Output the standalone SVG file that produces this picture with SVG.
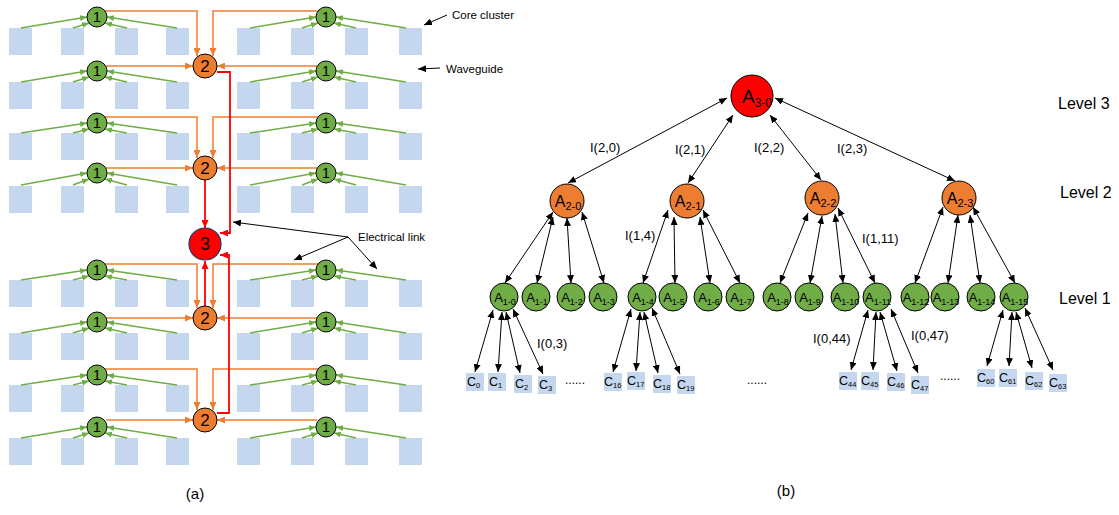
<svg xmlns="http://www.w3.org/2000/svg" width="1119" height="515" viewBox="0 0 1119 515">
<style>
text{font-family:"Liberation Sans",Arial,sans-serif;fill:#000}
.sq{fill:#c5d7ee}
.g1 circle{fill:#70ad47;stroke:#000;stroke-width:1}
.g2 circle{fill:#ed7d31;stroke:#000;stroke-width:1}
.g3 circle{fill:#ff0000;stroke:#1f3864;stroke-width:1.2}
.g4 circle{fill:#ff0000;stroke:#000;stroke-width:1}
.t1{font-size:15px;text-anchor:middle}
.t2{font-size:17px;text-anchor:middle}
.lg path{stroke:#70ad47;stroke-width:1.5;fill:none;marker-end:url(#mg)}
.lo path{stroke:#ed7d31;stroke-width:1.5;fill:none;marker-end:url(#mo)}
.lr path{stroke:#ff0000;stroke-width:1.8;fill:none;marker-end:url(#mr)}
.lk path{stroke:#000;stroke-width:1;fill:none;marker-end:url(#mk)}
.lb path{stroke:#000;stroke-width:1;fill:none;marker-start:url(#mk);marker-end:url(#mk)}
.lbl{font-size:11.5px}
.il{font-size:13px}
.lvl{font-size:16px}
.cap{font-size:15px;text-anchor:middle}
.c rect{fill:#c5d7ee}
.c text{font-size:12.5px}
.dots{font-size:12px}
</style>
<defs>
<marker id="mg" viewBox="0 0 7 6" refX="7" refY="3" markerWidth="7" markerHeight="6" markerUnits="userSpaceOnUse" orient="auto-start-reverse"><path d="M0,0L7,3L0,6z" fill="#70ad47"/></marker>
<marker id="mo" viewBox="0 0 8 7" refX="8" refY="3.5" markerWidth="8" markerHeight="7" markerUnits="userSpaceOnUse" orient="auto-start-reverse"><path d="M0,0L8,3.5L0,7z" fill="#ed7d31"/></marker>
<marker id="mr" viewBox="0 0 8 7" refX="8" refY="3.5" markerWidth="8" markerHeight="7" markerUnits="userSpaceOnUse" orient="auto-start-reverse"><path d="M0,0L8,3.5L0,7z" fill="#ff0000"/></marker>
<marker id="mk" viewBox="0 0 8 7" refX="8" refY="3.5" markerWidth="8" markerHeight="7" markerUnits="userSpaceOnUse" orient="auto-start-reverse"><path d="M0,0L8,3.5L0,7z" fill="#000"/></marker>
</defs>
<rect width="1119" height="515" fill="#fff"/>

<!-- (a) core clusters -->
<g id="cores-a" class="sq">
<g id="cores-r1"><rect x="9" y="28" width="23" height="27"/><rect x="61" y="28" width="23" height="27"/><rect x="115" y="28" width="23" height="27"/><rect x="166" y="28" width="23" height="27"/><rect x="237" y="28" width="23" height="27"/><rect x="291" y="28" width="23" height="27"/><rect x="345" y="28" width="23" height="27"/><rect x="399" y="28" width="23" height="27"/></g>
<g id="cores-r2"><rect x="9" y="82" width="23" height="27"/><rect x="61" y="82" width="23" height="27"/><rect x="115" y="82" width="23" height="27"/><rect x="166" y="82" width="23" height="27"/><rect x="237" y="82" width="23" height="27"/><rect x="291" y="82" width="23" height="27"/><rect x="345" y="82" width="23" height="27"/><rect x="399" y="82" width="23" height="27"/></g>
<g id="cores-r3"><rect x="9" y="133" width="23" height="27"/><rect x="61" y="133" width="23" height="27"/><rect x="115" y="133" width="23" height="27"/><rect x="166" y="133" width="23" height="27"/><rect x="237" y="133" width="23" height="27"/><rect x="291" y="133" width="23" height="27"/><rect x="345" y="133" width="23" height="27"/><rect x="399" y="133" width="23" height="27"/></g>
<g id="cores-r4"><rect x="9" y="186" width="23" height="27"/><rect x="61" y="186" width="23" height="27"/><rect x="115" y="186" width="23" height="27"/><rect x="166" y="186" width="23" height="27"/><rect x="237" y="186" width="23" height="27"/><rect x="291" y="186" width="23" height="27"/><rect x="345" y="186" width="23" height="27"/><rect x="399" y="186" width="23" height="27"/></g>
<g id="cores-r5"><rect x="9" y="280" width="23" height="27"/><rect x="61" y="280" width="23" height="27"/><rect x="115" y="280" width="23" height="27"/><rect x="166" y="280" width="23" height="27"/><rect x="237" y="280" width="23" height="27"/><rect x="291" y="280" width="23" height="27"/><rect x="345" y="280" width="23" height="27"/><rect x="399" y="280" width="23" height="27"/></g>
<g id="cores-r6"><rect x="9" y="333" width="23" height="27"/><rect x="61" y="333" width="23" height="27"/><rect x="115" y="333" width="23" height="27"/><rect x="166" y="333" width="23" height="27"/><rect x="237" y="333" width="23" height="27"/><rect x="291" y="333" width="23" height="27"/><rect x="345" y="333" width="23" height="27"/><rect x="399" y="333" width="23" height="27"/></g>
<g id="cores-r7"><rect x="9" y="385" width="23" height="27"/><rect x="61" y="385" width="23" height="27"/><rect x="115" y="385" width="23" height="27"/><rect x="166" y="385" width="23" height="27"/><rect x="237" y="385" width="23" height="27"/><rect x="291" y="385" width="23" height="27"/><rect x="345" y="385" width="23" height="27"/><rect x="399" y="385" width="23" height="27"/></g>
<g id="cores-r8"><rect x="9" y="438" width="23" height="27"/><rect x="61" y="438" width="23" height="27"/><rect x="115" y="438" width="23" height="27"/><rect x="166" y="438" width="23" height="27"/><rect x="237" y="438" width="23" height="27"/><rect x="291" y="438" width="23" height="27"/><rect x="345" y="438" width="23" height="27"/><rect x="399" y="438" width="23" height="27"/></g>
</g>

<!-- (a) connectors -->
<g id="connectors-a">
<g class="lg">
<path d="M21,28L87,17"/><path d="M73,28L89,23"/><path d="M127,28L105,23"/><path d="M177,28L107,17"/>
<path d="M250,28L316,17"/><path d="M302,28L318,23"/><path d="M356,28L334,23"/><path d="M406,28L336,17"/>
<path d="M21,82L87,71"/><path d="M73,82L89,77"/><path d="M127,82L105,77"/><path d="M177,82L107,71"/>
<path d="M250,82L316,71"/><path d="M302,82L318,77"/><path d="M356,82L334,77"/><path d="M406,82L336,71"/>
<path d="M21,133L87,123"/><path d="M73,133L89,129"/><path d="M127,133L105,129"/><path d="M177,133L107,123"/>
<path d="M250,133L316,123"/><path d="M302,133L318,129"/><path d="M356,133L334,129"/><path d="M406,133L336,123"/>
<path d="M21,185L87,173"/><path d="M73,185L89,179"/><path d="M127,185L105,179"/><path d="M177,185L107,173"/>
<path d="M250,185L316,173"/><path d="M302,185L318,179"/><path d="M356,185L334,179"/><path d="M406,185L336,173"/>
<path d="M21,280L87,270"/><path d="M73,280L89,276"/><path d="M127,280L105,276"/><path d="M177,280L107,270"/>
<path d="M250,280L316,270"/><path d="M302,280L318,276"/><path d="M356,280L334,276"/><path d="M406,280L336,270"/>
<path d="M21,333L87,322"/><path d="M73,333L89,328"/><path d="M127,333L105,328"/><path d="M177,333L107,322"/>
<path d="M250,333L316,322"/><path d="M302,333L318,328"/><path d="M356,333L334,328"/><path d="M406,333L336,322"/>
<path d="M21,385L87,375"/><path d="M73,385L89,381"/><path d="M127,385L105,381"/><path d="M177,385L107,375"/>
<path d="M250,385L316,375"/><path d="M302,385L318,381"/><path d="M356,385L334,381"/><path d="M406,385L336,375"/>
<path d="M21,438L87,427"/><path d="M73,438L89,433"/><path d="M127,438L105,433"/><path d="M177,438L107,427"/>
<path d="M250,438L316,427"/><path d="M302,438L318,433"/><path d="M356,438L334,433"/><path d="M406,438L336,427"/>
</g>
<g class="lo">
<path d="M105,11H197V56"/><path d="M318,11H213V56"/><path d="M106,66H193"/><path d="M317,66H217"/>
<path d="M105,117H197V158"/><path d="M318,117H213V158"/><path d="M106,168H193"/><path d="M317,168H217"/>
<path d="M105,264H197V308"/><path d="M318,264H213V308"/><path d="M106,318H193"/><path d="M317,318H217"/>
<path d="M105,369H197V410"/><path d="M318,369H213V410"/><path d="M106,420H193"/><path d="M317,420H217"/>
</g>
<g class="lr">
<path d="M217,72H230V233H220"/>
<path d="M205,180V228"/>
<path d="M205,306V261"/>
<path d="M217,413H229V255H220"/>
</g>
<g class="lk">
<path d="M447,15L424,25"/>
<path d="M440,68L418,69"/>
<path d="M348,237L233,222"/>
<path d="M348,237L294,260"/>
<path d="M348,237L377,269"/>
</g>
</g>

<!-- (a) nodes -->
<g id="a-n1-r1-l" class="g1"><circle cx="97" cy="17" r="10"/><text class="t1" x="97" y="22">1</text></g>
<g id="a-n1-r1-r" class="g1"><circle cx="326" cy="17" r="10"/><text class="t1" x="326" y="22">1</text></g>
<g id="a-n1-r2-l" class="g1"><circle cx="97" cy="71" r="10"/><text class="t1" x="97" y="76">1</text></g>
<g id="a-n1-r2-r" class="g1"><circle cx="326" cy="71" r="10"/><text class="t1" x="326" y="76">1</text></g>
<g id="a-n1-r3-l" class="g1"><circle cx="97" cy="123" r="10"/><text class="t1" x="97" y="128">1</text></g>
<g id="a-n1-r3-r" class="g1"><circle cx="326" cy="123" r="10"/><text class="t1" x="326" y="128">1</text></g>
<g id="a-n1-r4-l" class="g1"><circle cx="97" cy="173" r="10"/><text class="t1" x="97" y="178">1</text></g>
<g id="a-n1-r4-r" class="g1"><circle cx="326" cy="173" r="10"/><text class="t1" x="326" y="178">1</text></g>
<g id="a-n1-r5-l" class="g1"><circle cx="97" cy="270" r="10"/><text class="t1" x="97" y="275">1</text></g>
<g id="a-n1-r5-r" class="g1"><circle cx="326" cy="270" r="10"/><text class="t1" x="326" y="275">1</text></g>
<g id="a-n1-r6-l" class="g1"><circle cx="97" cy="322" r="10"/><text class="t1" x="97" y="327">1</text></g>
<g id="a-n1-r6-r" class="g1"><circle cx="326" cy="322" r="10"/><text class="t1" x="326" y="327">1</text></g>
<g id="a-n1-r7-l" class="g1"><circle cx="97" cy="375" r="10"/><text class="t1" x="97" y="380">1</text></g>
<g id="a-n1-r7-r" class="g1"><circle cx="326" cy="375" r="10"/><text class="t1" x="326" y="380">1</text></g>
<g id="a-n1-r8-l" class="g1"><circle cx="97" cy="427" r="10"/><text class="t1" x="97" y="432">1</text></g>
<g id="a-n1-r8-r" class="g1"><circle cx="326" cy="427" r="10"/><text class="t1" x="326" y="432">1</text></g>
<g id="a-n2-1" class="g2"><circle cx="205" cy="66" r="12"/><text class="t2" x="205" y="72">2</text></g>
<g id="a-n2-2" class="g2"><circle cx="205" cy="168" r="12"/><text class="t2" x="205" y="174">2</text></g>
<g id="a-n2-3" class="g2"><circle cx="205" cy="318" r="12"/><text class="t2" x="205" y="324">2</text></g>
<g id="a-n2-4" class="g2"><circle cx="205" cy="420" r="12"/><text class="t2" x="205" y="426">2</text></g>
<g id="a-n3" class="g3"><circle cx="205" cy="244" r="16"/><text class="t2" x="205" y="250" style="font-size:18px">3</text></g>

<g id="a-labels">
<text class="lbl" x="452" y="19">Core cluster</text>
<text class="lbl" x="446" y="73">Waveguide</text>
<text class="lbl" x="358" y="241">Electrical link</text>
<text class="cap" x="195" y="499">(a)</text>
</g>

<!-- (b) connectors -->
<g id="connectors-b" class="lb">
<path d="M727,98L568,183"/><path d="M733,115L688,183"/><path d="M770,115L821,180"/><path d="M775,98L955,181"/>
<path d="M553,212L505,283"/><path d="M553,217L537,283"/><path d="M567,218L571,283"/><path d="M582,212L604,283"/>
<path d="M668,210L643,283"/><path d="M674,217L675,283"/><path d="M700,217L710,283"/><path d="M703,210L740,283"/>
<path d="M808,213L780,283"/><path d="M822,216L810,283"/><path d="M835,214L843,283"/><path d="M838,208L875,283"/>
<path d="M943,207L915,283"/><path d="M958,215L948,283"/><path d="M970,215L980,283"/><path d="M973,207L1015,283"/>
<path d="M493,310L475,372"/><path d="M502,312L498,372"/><path d="M506,312L520,373"/><path d="M513,309L543,374"/>
<path d="M631,309L613,372"/><path d="M640,312L636,371"/><path d="M644,312L658,373"/><path d="M652,308L680,374"/>
<path d="M868,310L851,370"/><path d="M876,312L873,370"/><path d="M880,312L897,371"/><path d="M891,309L918,373"/>
<path d="M1003,310L987,366"/><path d="M1012,312L1009,366"/><path d="M1016,312L1032,368"/><path d="M1025,308L1053,370"/>
</g>

<!-- (b) nodes -->
<g id="b-A3-0" class="g4"><circle cx="752" cy="96" r="21"/><text x="757" y="103" text-anchor="middle" font-size="19">A<tspan font-size="12" dy="4">3-0</tspan></text></g>
<g id="b-A2-0" class="g2"><circle cx="567" cy="201" r="17"/><text x="568" y="207" text-anchor="middle" font-size="16">A<tspan font-size="11" dy="3">2-0</tspan></text></g>
<g id="b-A2-1" class="g2"><circle cx="687" cy="201" r="17"/><text x="688" y="207" text-anchor="middle" font-size="16">A<tspan font-size="11" dy="3">2-1</tspan></text></g>
<g id="b-A2-2" class="g2"><circle cx="822" cy="198" r="17"/><text x="823" y="204" text-anchor="middle" font-size="16">A<tspan font-size="11" dy="3">2-2</tspan></text></g>
<g id="b-A2-3" class="g2"><circle cx="959" cy="198" r="17"/><text x="960" y="204" text-anchor="middle" font-size="16">A<tspan font-size="11" dy="3">2-3</tspan></text></g>
<g id="b-A1-0" class="g1"><circle cx="504" cy="297" r="14"/><text x="505" y="302" text-anchor="middle" font-size="13">A<tspan font-size="9" dy="3">1-0</tspan></text></g>
<g id="b-A1-1" class="g1"><circle cx="536" cy="297" r="14"/><text x="537" y="302" text-anchor="middle" font-size="13">A<tspan font-size="9" dy="3">1-1</tspan></text></g>
<g id="b-A1-2" class="g1"><circle cx="571" cy="297" r="14"/><text x="572" y="302" text-anchor="middle" font-size="13">A<tspan font-size="9" dy="3">1-2</tspan></text></g>
<g id="b-A1-3" class="g1"><circle cx="603" cy="297" r="14"/><text x="604" y="302" text-anchor="middle" font-size="13">A<tspan font-size="9" dy="3">1-3</tspan></text></g>
<g id="b-A1-4" class="g1"><circle cx="642" cy="297" r="14"/><text x="643" y="302" text-anchor="middle" font-size="13">A<tspan font-size="9" dy="3">1-4</tspan></text></g>
<g id="b-A1-5" class="g1"><circle cx="673" cy="297" r="14"/><text x="674" y="302" text-anchor="middle" font-size="13">A<tspan font-size="9" dy="3">1-5</tspan></text></g>
<g id="b-A1-6" class="g1"><circle cx="708" cy="297" r="14"/><text x="709" y="302" text-anchor="middle" font-size="13">A<tspan font-size="9" dy="3">1-6</tspan></text></g>
<g id="b-A1-7" class="g1"><circle cx="740" cy="297" r="14"/><text x="741" y="302" text-anchor="middle" font-size="13">A<tspan font-size="9" dy="3">1-7</tspan></text></g>
<g id="b-A1-8" class="g1"><circle cx="777" cy="297" r="14"/><text x="778" y="302" text-anchor="middle" font-size="13">A<tspan font-size="9" dy="3">1-8</tspan></text></g>
<g id="b-A1-9" class="g1"><circle cx="809" cy="297" r="14"/><text x="810" y="302" text-anchor="middle" font-size="13">A<tspan font-size="9" dy="3">1-9</tspan></text></g>
<g id="b-A1-10" class="g1"><circle cx="845" cy="297" r="14"/><text x="846" y="302" text-anchor="middle" font-size="13">A<tspan font-size="9" dy="3">1-10</tspan></text></g>
<g id="b-A1-11" class="g1"><circle cx="877" cy="297" r="14"/><text x="878" y="302" text-anchor="middle" font-size="13">A<tspan font-size="9" dy="3">1-11</tspan></text></g>
<g id="b-A1-12" class="g1"><circle cx="915" cy="297" r="14"/><text x="916" y="302" text-anchor="middle" font-size="13">A<tspan font-size="9" dy="3">1-12</tspan></text></g>
<g id="b-A1-13" class="g1"><circle cx="945" cy="297" r="14"/><text x="946" y="302" text-anchor="middle" font-size="13">A<tspan font-size="9" dy="3">1-13</tspan></text></g>
<g id="b-A1-14" class="g1"><circle cx="981" cy="297" r="14"/><text x="982" y="302" text-anchor="middle" font-size="13">A<tspan font-size="9" dy="3">1-14</tspan></text></g>
<g id="b-A1-15" class="g1"><circle cx="1014" cy="297" r="14"/><text x="1015" y="302" text-anchor="middle" font-size="13">A<tspan font-size="9" dy="3">1-15</tspan></text></g>

<!-- (b) cores -->
<g id="b-C0" class="c"><rect x="466" y="373" width="18" height="18"/><text x="467" y="386">C<tspan font-size="7.5" dy="1.5">0</tspan></text></g>
<g id="b-C1" class="c"><rect x="488" y="373" width="18" height="18"/><text x="489" y="386">C<tspan font-size="7.5" dy="1.5">1</tspan></text></g>
<g id="b-C2" class="c"><rect x="514" y="375" width="18" height="18"/><text x="515" y="388">C<tspan font-size="7.5" dy="1.5">2</tspan></text></g>
<g id="b-C3" class="c"><rect x="538" y="376" width="18" height="18"/><text x="539" y="389">C<tspan font-size="7.5" dy="1.5">3</tspan></text></g>
<g id="b-C16" class="c"><rect x="604" y="373" width="18" height="18"/><text x="604" y="386">C<tspan font-size="7.5" dy="1.5">16</tspan></text></g>
<g id="b-C17" class="c"><rect x="627" y="372" width="18" height="18"/><text x="627" y="385">C<tspan font-size="7.5" dy="1.5">17</tspan></text></g>
<g id="b-C18" class="c"><rect x="653" y="375" width="18" height="18"/><text x="653" y="388">C<tspan font-size="7.5" dy="1.5">18</tspan></text></g>
<g id="b-C19" class="c"><rect x="677" y="376" width="18" height="18"/><text x="677" y="389">C<tspan font-size="7.5" dy="1.5">19</tspan></text></g>
<g id="b-C44" class="c"><rect x="839" y="372" width="18" height="18"/><text x="839" y="385">C<tspan font-size="7.5" dy="1.5">44</tspan></text></g>
<g id="b-C45" class="c"><rect x="861" y="372" width="18" height="18"/><text x="861" y="385">C<tspan font-size="7.5" dy="1.5">45</tspan></text></g>
<g id="b-C46" class="c"><rect x="887" y="373" width="18" height="18"/><text x="887" y="386">C<tspan font-size="7.5" dy="1.5">46</tspan></text></g>
<g id="b-C47" class="c"><rect x="911" y="376" width="18" height="18"/><text x="911" y="389">C<tspan font-size="7.5" dy="1.5">47</tspan></text></g>
<g id="b-C60" class="c"><rect x="977" y="369" width="18" height="18"/><text x="977" y="382">C<tspan font-size="7.5" dy="1.5">60</tspan></text></g>
<g id="b-C61" class="c"><rect x="999" y="369" width="18" height="18"/><text x="999" y="382">C<tspan font-size="7.5" dy="1.5">61</tspan></text></g>
<g id="b-C62" class="c"><rect x="1025" y="372" width="18" height="18"/><text x="1025" y="385">C<tspan font-size="7.5" dy="1.5">62</tspan></text></g>
<g id="b-C63" class="c"><rect x="1049" y="374" width="18" height="18"/><text x="1049" y="387">C<tspan font-size="7.5" dy="1.5">63</tspan></text></g>

<g id="b-labels">
<text class="il" x="590" y="152">I(2,0)</text>
<text class="il" x="675" y="154">I(2,1)</text>
<text class="il" x="754" y="152">I(2,2)</text>
<text class="il" x="837" y="153">I(2,3)</text>
<text class="il" x="625" y="240">I(1,4)</text>
<text class="il" x="862" y="243">I(1,11)</text>
<text class="il" x="537" y="348">I(0,3)</text>
<text class="il" x="813" y="343">I(0,44)</text>
<text class="il" x="911" y="340">I(0,47)</text>
<text class="dots" x="565" y="384">......</text>
<text class="dots" x="747" y="384">......</text>
<text class="dots" x="940" y="380">......</text>
<text class="lvl" x="1058" y="109">Level 3</text>
<text class="lvl" x="1060" y="198">Level 2</text>
<text class="lvl" x="1059" y="304">Level 1</text>
<text class="cap" x="786" y="496">(b)</text>
</g>
</svg>
